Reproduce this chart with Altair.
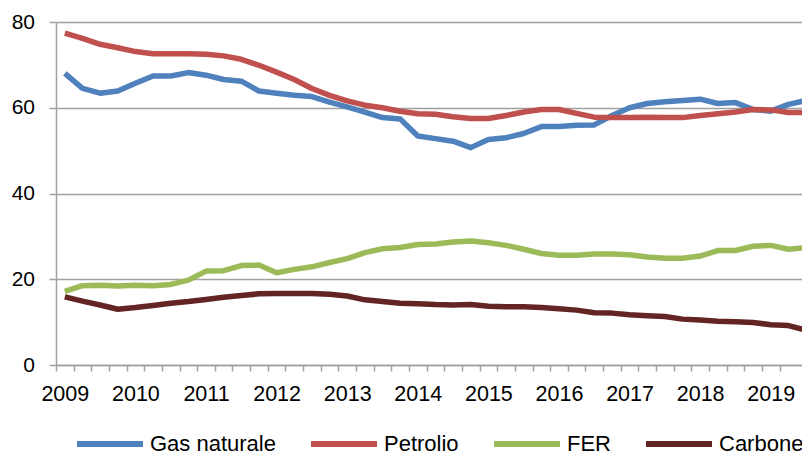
import altair as alt
import pandas as pd

series = ["Gas naturale", "Petrolio", "FER", "Carbone"]
colors = ["#4F81BD", "#C0504D", "#9BBB59", "#632523"]
years = ["2009", "2010", "2011", "2012", "2013", "2014", "2015", "2016", "2017", "2018", "2019"]

# quarterly values, 2009 Q1 ... 2019 Q3
gas = [68.0, 64.5, 63.4, 63.9, 65.7, 67.4, 67.4, 68.2, 67.6, 66.6, 66.2, 63.9, 63.4, 62.9,
       62.6, 61.3, 60.2, 59.0, 57.7, 57.4, 53.4, 52.8, 52.2, 50.7, 52.6, 53.0, 54.0, 55.6,
       55.6, 55.9, 56.0, 58.2, 60.0, 61.0, 61.4, 61.7, 62.0, 61.0, 61.2, 59.6, 59.2, 60.8, 61.7]
petrolio = [77.4, 76.2, 74.8, 74.0, 73.1, 72.6, 72.6, 72.6, 72.5, 72.1, 71.3, 69.9, 68.3, 66.6,
            64.5, 62.9, 61.6, 60.6, 60.0, 59.2, 58.6, 58.5, 57.9, 57.5, 57.5, 58.2, 59.0, 59.6,
            59.6, 58.7, 57.8, 57.7, 57.7, 57.8, 57.7, 57.7, 58.2, 58.6, 59.0, 59.6, 59.5, 58.9, 58.9]
fer = [17.2, 18.5, 18.6, 18.4, 18.6, 18.5, 18.8, 19.8, 21.9, 22.0, 23.2, 23.3, 21.5, 22.3,
       22.9, 23.9, 24.8, 26.2, 27.1, 27.4, 28.1, 28.2, 28.7, 28.9, 28.5, 27.9, 27.0, 26.0,
       25.6, 25.6, 25.9, 25.9, 25.7, 25.2, 24.9, 24.9, 25.4, 26.7, 26.7, 27.7, 27.9, 27.0, 27.4]
carbone = [15.9, 14.9, 14.0, 13.0, 13.4, 13.9, 14.4, 14.8, 15.3, 15.8, 16.2, 16.6, 16.7, 16.7,
           16.7, 16.5, 16.1, 15.2, 14.8, 14.4, 14.3, 14.1, 14.0, 14.1, 13.7, 13.6, 13.6, 13.4,
           13.1, 12.8, 12.2, 12.1, 11.7, 11.5, 11.3, 10.7, 10.5, 10.2, 10.1, 9.9, 9.4, 9.2, 8.1]

rows = []
for name, vals in zip(series, [gas, petrolio, fer, carbone]):
    for i, v in enumerate(vals):
        rows.append({"q": i, "serie": name, "val": v})
df = pd.DataFrame(rows)

years_js = "[" + ",".join("'" + y + "'" for y in years) + "]"
label_expr = f"datum.value % 4 == 0 ? {years_js}[datum.value / 4] : ''"

grid_col = "#a0a0a0"
half = 8.825

chart = alt.Chart(df).mark_line(strokeWidth=5.5, strokeJoin="round", clip=True).encode(
    x=alt.X("q:Q",
            scale=alt.Scale(domain=[-0.5, 41.77], nice=False, zero=False),
            axis=alt.Axis(values=list(range(42)), tickOffset=-half, labelOffset=half,
                          labelExpr=label_expr, labelOverlap=False, labelFlush=False,
                          grid=False, tickSize=6, tickColor=grid_col, tickWidth=1.5,
                          domainColor=grid_col, domainWidth=1.5, labelFontSize=21.5,
                          labelPadding=12, labelColor="#000000", title=None)),
    y=alt.Y("val:Q",
            scale=alt.Scale(domain=[0, 80], nice=False),
            axis=alt.Axis(values=[0, 20, 40, 60, 80], grid=True, gridColor=grid_col,
                          gridWidth=1.5, tickSize=7, tickColor=grid_col, tickWidth=1.5,
                          domainColor=grid_col, domainWidth=1.5, labelFontSize=21,
                          labelPadding=14.5, labelColor="#000000", title=None)),
    color=alt.Color("serie:N",
                    scale=alt.Scale(domain=series, range=colors),
                    legend=alt.Legend(orient="none", direction="horizontal", legendX=18,
                                      legendY=386, title=None, symbolType="stroke",
                                      symbolSize=4356, symbolStrokeWidth=6,
                                      labelFontSize=22, labelOffset=4, columnPadding=23,
                                      labelColor="#000000")),
).properties(
    width=746, height=343,
    padding={"left": 48, "top": 14, "right": 0, "bottom": 90},
    autosize=alt.AutoSizeParams(type="none"),
).configure(
    font="Liberation Sans",
).configure_view(stroke=None)

chart.save("out.html", embed_options={"renderer": "svg", "actions": False})
